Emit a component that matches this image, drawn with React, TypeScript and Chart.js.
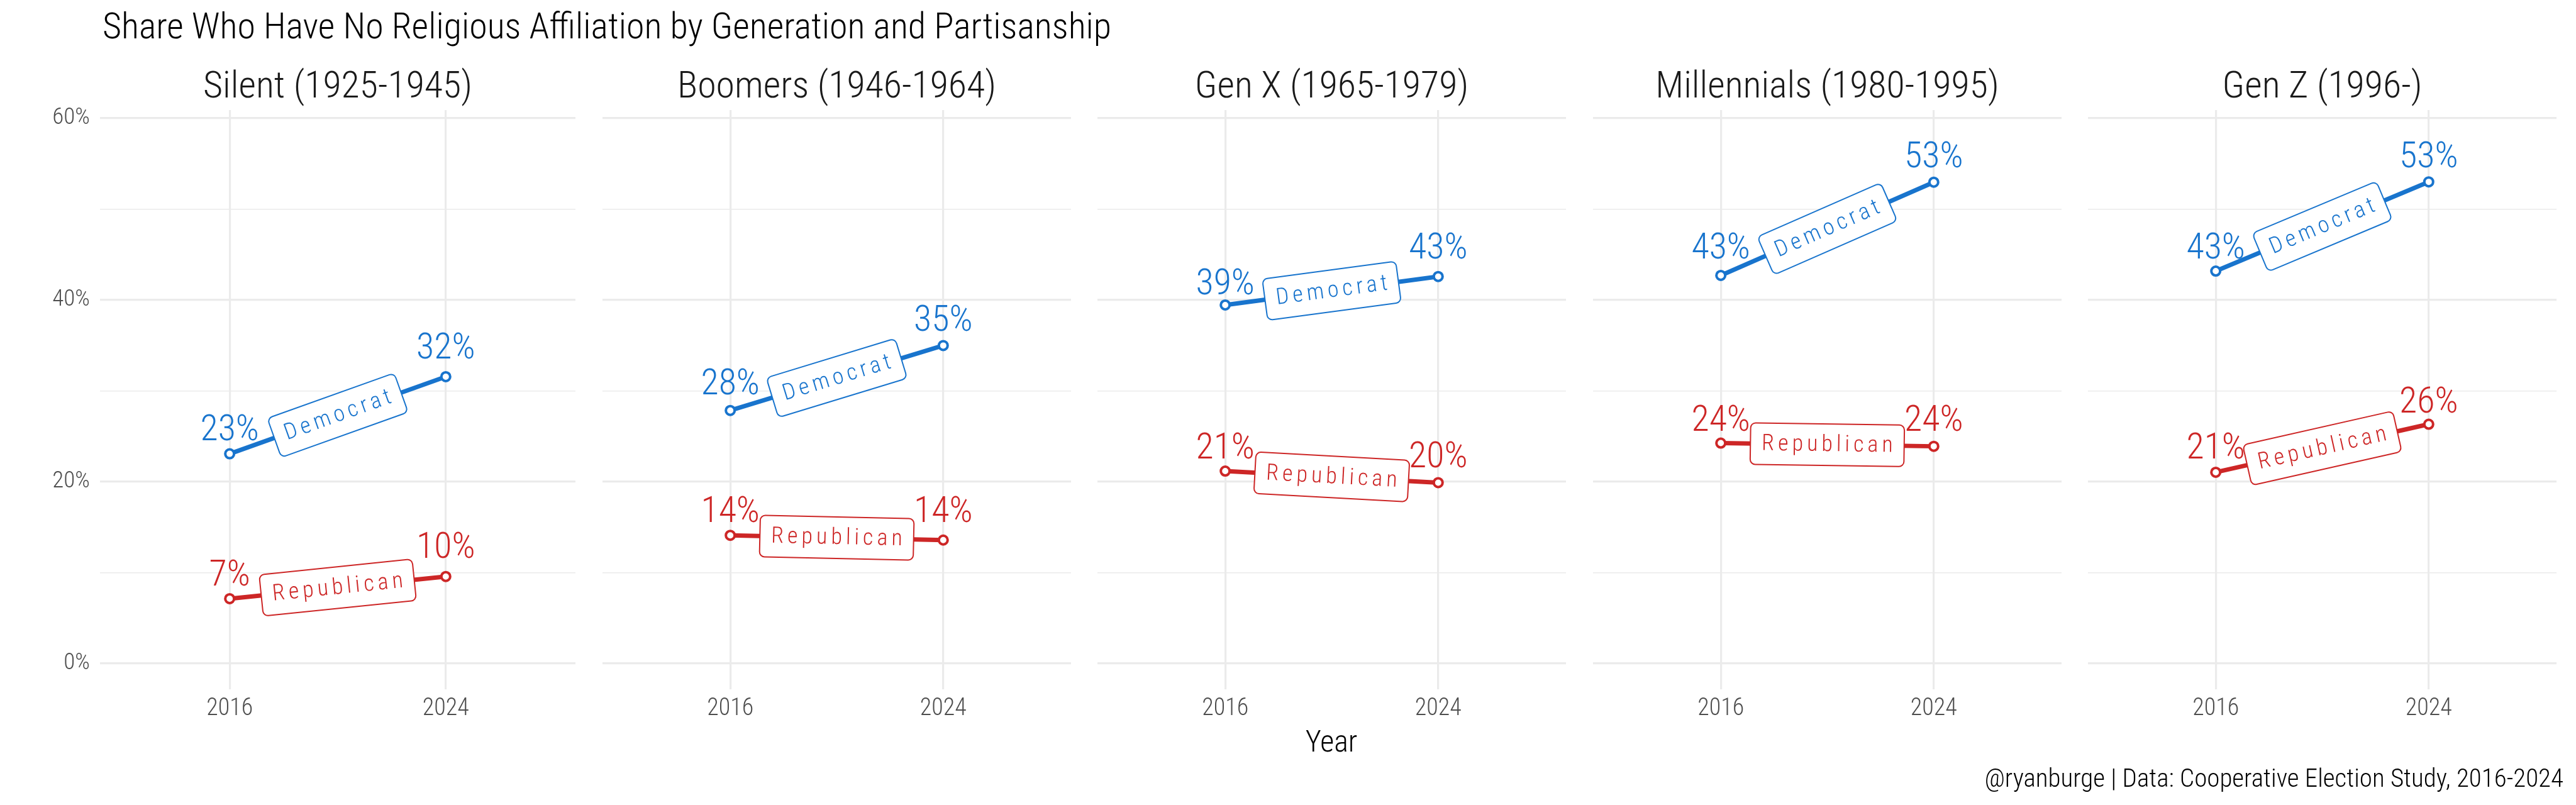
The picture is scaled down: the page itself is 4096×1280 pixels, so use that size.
import { useEffect, useRef } from "react"
import { Chart, registerables } from "chart.js"

// Register Chart.js components
Chart.register(...registerables)

const FONT = "'Roboto Condensed', 'DejaVu Sans Condensed', sans-serif"
const WEIGHT = 300
const DEM_COLOR = "#1874CD"
const REP_COLOR = "#CD2626"
const GRID_COLOR = "#EBEBEB"

// chart data
const generations = [
  "Silent (1925-1945)",
  "Boomers (1946-1964)",
  "Gen X (1965-1979)",
  "Millennials (1980-1995)",
  "Gen Z (1996-)",
]
const years = ["2016", "2024"]
const parties = ["Democrat", "Republican"]
const democrat2016 = [0.2307, 0.2784, 0.3945, 0.427, 0.4318]
const democrat2024 = [0.3156, 0.3499, 0.4258, 0.5296, 0.53]
const republican2016 = [0.0713, 0.141, 0.2117, 0.2425, 0.2104]
const republican2024 = [0.0957, 0.1358, 0.199, 0.239, 0.2633]
const yTicks = [0, 0.1, 0.2, 0.3, 0.4, 0.5, 0.6]

// layout (page pixels)
const PAGE_W = 4096
const PAGE_H = 1280
const PANEL_W = 767
const PANEL_STEP = 787.5
const FIRST_LEFT = 159
const PLOT_TOP = 175
const PLOT_BOTTOM = 1096

const pct = (v: number) => `${Math.round(v * 100)}%`

// draws facet title, value labels and the boxed party labels along each line
const panelDecor = {
  id: "panelDecor",
  afterDatasetsDraw(chart: any, _args: any, opts: any) {
    const { ctx, chartArea, scales } = chart
    const xs = scales.x
    const ys = scales.y
    ctx.save()

    // facet strip title
    ctx.font = `${WEIGHT} 60px ${FONT}`
    ctx.fillStyle = "#1A1A1A"
    ctx.textAlign = "center"
    ctx.textBaseline = "alphabetic"
    ctx.fillText(opts.title, (chartArea.left + chartArea.right) / 2, 155)

    chart.data.datasets.forEach((ds: any) => {
      const color = ds.borderColor
      const pts = ds.data.map((d: any) => ({ x: xs.getPixelForValue(d.x), y: ys.getPixelForValue(d.y) }))

      // value labels above each point (placed at the rounded value)
      ctx.font = `${WEIGHT} 58px ${FONT}`
      ctx.fillStyle = color
      ctx.textAlign = "center"
      ctx.textBaseline = "alphabetic"
      ds.data.forEach((d: any, i: number) => {
        const yl = ys.getPixelForValue(Math.round(d.y * 100) / 100) - 23
        ctx.fillText(pct(d.y), pts[i].x, yl)
      })

      // boxed label along the line
      const mx = (pts[0].x + pts[1].x) / 2
      const my = (pts[0].y + pts[1].y) / 2
      const angle = Math.atan2(pts[1].y - pts[0].y, pts[1].x - pts[0].x)
      const ls = 6
      ctx.font = `${WEIGHT} 36px ${FONT}`
      ;(ctx as any).letterSpacing = `${ls}px`
      const tw = ctx.measureText(ds.label).width - ls
      const bw = tw + 36
      const bh = 66
      ctx.translate(mx, my)
      ctx.rotate(angle)
      ctx.beginPath()
      ctx.roundRect(-bw / 2, -bh / 2, bw, bh, 8)
      ctx.fillStyle = "#FFFFFF"
      ctx.fill()
      ctx.lineWidth = 2
      ctx.strokeStyle = color
      ctx.stroke()
      ctx.fillStyle = color
      ctx.textAlign = "left"
      ctx.fillText(ds.label, -tw / 2, 36 * 0.36 - 3)
      ;(ctx as any).letterSpacing = "0px"
      ctx.setTransform(1, 0, 0, 1, 0, 0)
    })

    ctx.restore()
  },
}

function Panel({ index }: { index: number }) {
  const chartRef = useRef<HTMLCanvasElement>(null)
  const chartInstance = useRef<Chart | null>(null)
  const first = index === 0
  const axisW = first ? FIRST_LEFT : 0
  const panelLeft = FIRST_LEFT + index * PANEL_STEP
  const width = Math.round(PANEL_W + axisW)
  const left = Math.round(panelLeft - axisW)

  useEffect(() => {
    if (!chartRef.current) return
    if (chartInstance.current) chartInstance.current.destroy()
    const ctx = chartRef.current.getContext("2d")
    if (!ctx) return

    const series = [
      { label: parties[0], values: [democrat2016[index], democrat2024[index]], color: DEM_COLOR },
      { label: parties[1], values: [republican2016[index], republican2024[index]], color: REP_COLOR },
    ]

    chartInstance.current = new Chart(ctx, {
      type: "line",
      data: {
        datasets: series.map((s) => ({
          label: s.label,
          data: s.values.map((v, i) => ({ x: i + 1, y: v })),
          borderColor: s.color,
          borderWidth: 7,
          pointRadius: 7,
          pointBorderWidth: 4,
          pointBackgroundColor: "#FFFFFF",
          pointBorderColor: s.color,
          clip: false as any,
        })),
      },
      options: {
        responsive: false,
        animation: false,
        devicePixelRatio: 1,
        layout: { padding: { top: PLOT_TOP, left: 0, right: 0, bottom: 0 } },
        plugins: {
          legend: { display: false },
          tooltip: { enabled: false },
          panelDecor: { title: generations[index] },
        } as any,
        scales: {
          x: {
            type: "linear",
            min: 0.4,
            max: 2.6,
            afterBuildTicks: (scale: any) => {
              scale.ticks = years.map((_, i) => ({ value: i + 1 }))
            },
            afterFit: (scale: any) => {
              scale.height = PAGE_H - PLOT_BOTTOM
            },
            ticks: {
              callback: (value: any) => years[Number(value) - 1] ?? "",
              font: { family: FONT, size: 38, weight: WEIGHT as any },
              color: "#4D4D4D",
              padding: 9,
              maxRotation: 0,
            },
            grid: { color: GRID_COLOR, lineWidth: 3.2, drawTicks: false },
            border: { display: false },
          },
          y: {
            type: "linear",
            min: -0.0284,
            max: 0.609,
            afterBuildTicks: (scale: any) => {
              scale.ticks = yTicks.map((v) => ({ value: v }))
            },
            afterFit: (scale: any) => {
              scale.width = axisW
            },
            ticks: {
              display: first,
              callback: (value: any) => (Math.round(Number(value) * 10) % 2 === 0 ? pct(Number(value)) : ""),
              font: { family: FONT, size: 37, weight: WEIGHT as any },
              color: "#4D4D4D",
              padding: 16,
            },
            grid: {
              color: GRID_COLOR,
              lineWidth: (c: any) => (Math.round(c.tick.value * 10) % 2 === 0 ? 3.2 : 1.6),
              drawTicks: false,
            },
            border: { display: false },
          },
        },
      },
      plugins: [panelDecor],
    })

    return () => {
      if (chartInstance.current) {
        chartInstance.current.destroy()
        chartInstance.current = null
      }
    }
  }, [index])

  return (
    <canvas
      ref={chartRef}
      width={width}
      height={PAGE_H}
      style={{ position: "absolute", left, top: 0, width, height: PAGE_H }}
    />
  )
}

export default function App() {
  useEffect(() => {
    document.body.style.margin = "0"
  }, [])

  const text = {
    position: "absolute" as const,
    fontFamily: FONT,
    fontWeight: WEIGHT,
    lineHeight: 1,
    whiteSpace: "nowrap" as const,
  }

  return (
    <div style={{ position: "relative", width: PAGE_W, height: PAGE_H, background: "#FFFFFF", overflow: "hidden" }}>
      <div style={{ ...text, left: 163, top: 12, fontSize: 58, color: "#000000" }}>
        Share Who Have No Religious Affiliation by Generation and Partisanship
      </div>
      {generations.map((_, i) => (
        <Panel key={i} index={i} />
      ))}
      <div style={{ ...text, left: 0, width: 4234, textAlign: "center", top: 1155, fontSize: 48, color: "#000000" }}>
        Year
      </div>
      <div style={{ ...text, right: 20, top: 1217, fontSize: 41, color: "#000000" }}>
        @ryanburge | Data: Cooperative Election Study, 2016-2024
      </div>
    </div>
  )
}
